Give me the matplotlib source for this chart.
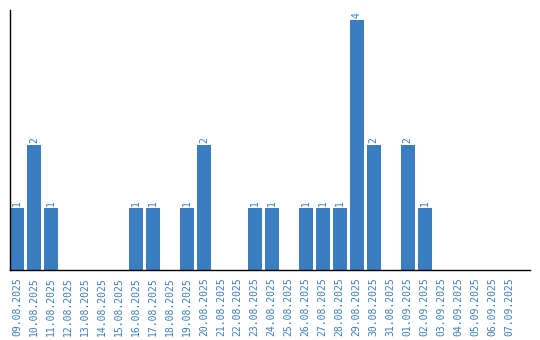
import matplotlib
matplotlib.use("Agg")
import matplotlib.pyplot as plt

# daily counts
dates = ["09.08.2025", "10.08.2025", "11.08.2025", "12.08.2025", "13.08.2025",
         "14.08.2025", "15.08.2025", "16.08.2025", "17.08.2025", "18.08.2025",
         "19.08.2025", "20.08.2025", "21.08.2025", "22.08.2025", "23.08.2025",
         "24.08.2025", "25.08.2025", "26.08.2025", "27.08.2025", "28.08.2025",
         "29.08.2025", "30.08.2025", "31.08.2025", "01.09.2025", "02.09.2025",
         "03.09.2025", "04.09.2025", "05.09.2025", "06.09.2025", "07.09.2025"]
counts = [1, 2, 1, 0, 0, 0, 0, 1, 1, 0, 1, 2, 0, 0, 1, 1, 0, 1, 1, 1, 4, 2, 0, 2, 1,
          0, 0, 0, 0, 0]

blue = "#3a7dc1"
plt.rcParams["font.family"] = ["DejaVu Sans Mono"]

fig = plt.figure(figsize=(5.4, 3.4), dpi=100)
ax = fig.add_axes([10 / 540, 70 / 340, 520 / 540, 260 / 340])

x = list(range(len(dates)))
bars = ax.bar(x, counts, width=0.82, color=blue)

# value labels above non-empty bars
for xi, c in zip(x, counts):
    if c > 0:
        ax.text(xi, c + 0.03, str(c), rotation=90, ha="center", va="bottom",
                fontsize=7, color=blue)

ax.set_xticks(x)
ax.set_xticklabels(dates, rotation=90, fontsize=7, color=blue)
ax.tick_params(axis="x", length=0, pad=5)
ax.set_yticks([])
ax.set_xlim(-0.41, 30.2)
ax.set_ylim(0, 4.16)

for side in ["top", "right"]:
    ax.spines[side].set_visible(False)
ax.spines["left"].set_linewidth(1)
ax.spines["bottom"].set_linewidth(1)

fig.savefig("out.png", dpi=100)
